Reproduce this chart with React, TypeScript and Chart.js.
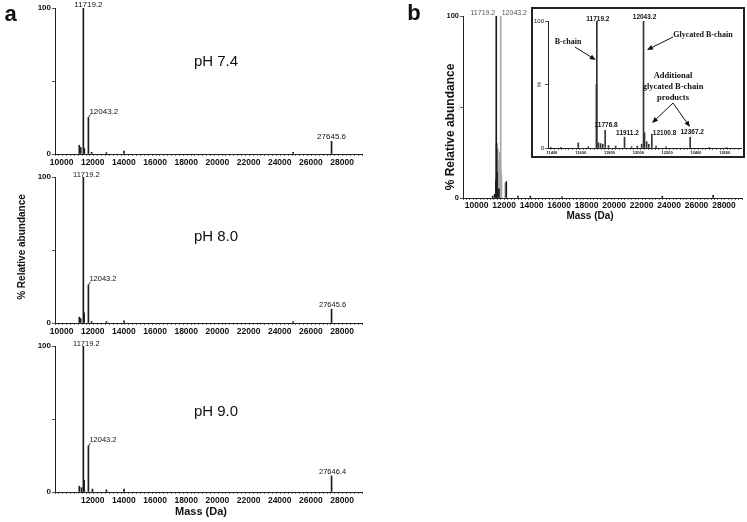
import React, { useEffect, useRef } from 'react';
import { Chart, registerables } from 'chart.js';

Chart.register(...registerables);

// ---------- data ----------
// Panel a: deconvoluted spectra at three pH values (mass in Da, % relative abundance)
const ph74Mass = [11460, 11550, 11719.2, 11780, 12043.2, 12250, 13200, 14330, 25180, 27645.6];
const ph74Abund = [6, 4.5, 100, 4, 25, 1.2, 1, 2, 1.2, 8.7];

const ph80Mass = [11460, 11550, 11719.2, 11770, 12043.2, 12250, 13200, 14330, 25180, 27645.6];
const ph80Abund = [4, 3, 100, 7, 26, 1, 1, 1.5, 1, 9.5];

const ph90Mass = [11460, 11600, 11719.2, 11770, 12043.2, 12300, 13200, 14330, 27646.4];
const ph90Abund = [4, 3, 100, 8, 31.5, 2, 1.5, 2, 11];

// Panel b: overlaid spectra (black = B-chain, grey = glycated)
const bBlackMass = [11460, 11600, 11700, 11719.2, 11745, 11776.8, 11911.2, 12450, 13300, 14200, 16500, 23800, 27500];
const bBlackAbund = [1, 2, 10, 100, 30, 14, 5, 9, 1, 1, 0.7, 1, 1.5];
const bGreyMass = [11760, 11830, 11900, 11970, 12020, 12043.2, 12060, 12100.8, 12367.2];
const bGreyAbund = [24, 27, 20, 25, 22, 100, 15, 12, 8];

// Panel b inset: zoomed region
const insetMass = [11400, 11470, 11590, 11660, 11716, 11719.2, 11730, 11745, 11760, 11776.8, 11800, 11850, 11911.2, 11960, 12000, 12030, 12043.2, 12050, 12065, 12080, 12100.8, 12130, 12200, 12367.2, 12500, 12620];
const insetAbund = [0.5, 0.5, 4, 1, 50, 100, 4, 3.5, 3, 14, 2, 1.5, 8.5, 1, 1.5, 3, 100, 12, 5, 3, 11, 1.5, 1, 8.5, 0.5, 0.5];

// tick labels
const massTicks = [10000, 12000, 14000, 16000, 18000, 20000, 22000, 24000, 26000, 28000];
const massTicksNo10k = [12000, 14000, 16000, 18000, 20000, 22000, 24000, 26000, 28000];
const insetTicks = [11400, 11600, 11800, 12000, 12200, 12400, 12600];
const abundTicks = [0, 100];

const SANS = "'Liberation Sans', Arial, Helvetica, sans-serif";
const SERIF = "'Liberation Serif', 'Times New Roman', serif";

type Series = { mass: number[]; abund: number[]; color: string };
type PeakLabel = {
  mass: number; abund: number; text: string; dx: number; dy: number;
  align: CanvasTextAlign; font: string; color?: string; leader?: boolean;
};
type Note = { mass: number; abund: number; text: string; font: string };
type Arrow = { from: [number, number]; to: [number, number] };
type Panel = {
  series: Series[];
  xMin: number; xMax: number; xStep: number; xLabels: number[];
  padTop: number; padRight: number; yWidth: number; xHeight: number;
  xFont: number; yFont: number; yBold: boolean; xLabelOffset: number; xLabelDx: number;
  labels: PeakLabel[]; notes?: Note[]; arrows?: Arrow[];
  sideTitle?: { text: string; font: string; color: string; offset: number };
};

const hasVal = (arr: number[], v: number) => arr.some((a) => Math.abs(a - v) < 1e-6);

function annPlugin(p: Panel) {
  return {
    id: 'ann',
    afterDraw(chart: any) {
      const ctx: CanvasRenderingContext2D = chart.ctx;
      const xs = chart.scales.x;
      const ys = chart.scales.y;
      const area = chart.chartArea;
      ctx.save();
      // x tick labels, placed by the x scale
      ctx.font = `bold ${p.xFont}px ${SANS}`;
      ctx.fillStyle = '#111';
      ctx.textAlign = 'center';
      ctx.textBaseline = 'middle';
      for (const v of p.xLabels) {
        ctx.fillText(String(v), xs.getPixelForValue(v) + p.xLabelDx, area.bottom + p.xLabelOffset);
      }
      for (const l of p.labels) {
        const px = xs.getPixelForValue(l.mass);
        const py = ys.getPixelForValue(l.abund);
        ctx.font = l.font;
        ctx.fillStyle = l.color || '#111';
        ctx.textAlign = l.align;
        ctx.textBaseline = 'middle';
        ctx.fillText(l.text, px + l.dx, py + l.dy);
        if (l.leader) {
          ctx.strokeStyle = '#333';
          ctx.lineWidth = 1;
          ctx.beginPath();
          ctx.moveTo(px, py);
          ctx.lineTo(px + 2, py - 3);
          ctx.stroke();
        }
      }
      for (const n of p.notes || []) {
        ctx.font = n.font;
        ctx.fillStyle = '#111';
        ctx.textAlign = 'center';
        ctx.textBaseline = 'middle';
        ctx.fillText(n.text, xs.getPixelForValue(n.mass), ys.getPixelForValue(n.abund));
      }
      for (const a of p.arrows || []) {
        const x0 = xs.getPixelForValue(a.from[0]);
        const y0 = ys.getPixelForValue(a.from[1]);
        const x1 = xs.getPixelForValue(a.to[0]);
        const y1 = ys.getPixelForValue(a.to[1]);
        const ang = Math.atan2(y1 - y0, x1 - x0);
        const hl = 6, hw = 2.5;
        ctx.strokeStyle = '#111';
        ctx.fillStyle = '#111';
        ctx.lineWidth = 1;
        ctx.beginPath();
        ctx.moveTo(x0, y0);
        ctx.lineTo(x1 - Math.cos(ang) * hl * 0.8, y1 - Math.sin(ang) * hl * 0.8);
        ctx.stroke();
        ctx.beginPath();
        ctx.moveTo(x1, y1);
        ctx.lineTo(x1 - Math.cos(ang) * hl - Math.sin(ang) * hw, y1 - Math.sin(ang) * hl + Math.cos(ang) * hw);
        ctx.lineTo(x1 - Math.cos(ang) * hl + Math.sin(ang) * hw, y1 - Math.sin(ang) * hl - Math.cos(ang) * hw);
        ctx.closePath();
        ctx.fill();
      }
      if (p.sideTitle) {
        const t = p.sideTitle;
        ctx.translate(area.left - t.offset, (area.top + area.bottom) / 2);
        ctx.rotate(-Math.PI / 2);
        ctx.font = t.font;
        ctx.fillStyle = t.color;
        ctx.textAlign = 'center';
        ctx.textBaseline = 'middle';
        ctx.fillText(t.text, 0, 0);
      }
      ctx.restore();
    },
  };
}

function buildConfig(p: Panel): any {
  return {
    type: 'bar',
    data: {
      datasets: p.series.map((s) => ({
        data: s.mass.map((m, i) => ({ x: m, y: s.abund[i] })),
        backgroundColor: s.color,
        borderWidth: 0,
        barThickness: 1,
        grouped: false,
      })),
    },
    options: {
      responsive: false,
      animation: false,
      devicePixelRatio: 1,
      layout: { padding: { top: p.padTop, right: p.padRight, left: 0, bottom: 0 } },
      plugins: { legend: { display: false }, tooltip: { enabled: false }, title: { display: false } },
      scales: {
        x: {
          type: 'linear',
          min: p.xMin,
          max: p.xMax,
          offset: false,
          afterFit: (s: any) => { s.height = p.xHeight; },
          ticks: {
            stepSize: p.xStep,
            maxTicksLimit: 1000,
            autoSkip: false,
            maxRotation: 0,
            minRotation: 0,
            includeBounds: false,
            padding: 0,
            font: { family: SANS, size: 4 },
            callback: () => '',
          },
          grid: { drawOnChartArea: false, drawTicks: true, tickLength: 2, color: '#777', offset: false },
          border: { display: true, color: '#222', width: 1 },
        },
        y: {
          type: 'linear',
          min: 0,
          max: 100,
          afterFit: (s: any) => { s.width = p.yWidth; },
          ticks: {
            stepSize: 50,
            padding: 1,
            color: '#111',
            font: { family: SANS, size: p.yFont, weight: p.yBold ? 'bold' : 'normal' },
            callback: (v: number) => (hasVal(abundTicks, v) ? String(v) : ''),
          },
          grid: { drawOnChartArea: false, drawTicks: true, tickLength: 3, color: '#555' },
          border: { display: true, color: '#222', width: 1 },
        },
      },
    },
    plugins: [annPlugin(p)],
  };
}

function SpectrumCanvas(props: { cfg: Panel; left: number; top: number; width: number; height: number }) {
  const ref = useRef<HTMLCanvasElement>(null);
  useEffect(() => {
    const chart = new Chart(ref.current as HTMLCanvasElement, buildConfig(props.cfg));
    return () => chart.destroy();
  }, []);
  return (
    <canvas
      ref={ref}
      width={props.width}
      height={props.height}
      style={{ position: 'absolute', left: props.left, top: props.top, width: props.width, height: props.height }}
    />
  );
}

function Txt(p: { x: number; y: number; text: string; size: number; bold?: boolean; rotate?: boolean; color?: string }) {
  return (
    <div
      style={{
        position: 'absolute',
        left: p.x,
        top: p.y,
        transform: `translate(-50%, -50%)${p.rotate ? ' rotate(-90deg)' : ''}`,
        fontFamily: SANS,
        fontSize: p.size,
        fontWeight: p.bold ? 700 : 400,
        lineHeight: 1,
        whiteSpace: 'nowrap',
        color: p.color || '#111',
      }}
    >
      {p.text}
    </div>
  );
}

const pf = (size: number, bold = false) => `${bold ? 'bold ' : ''}${size}px ${SANS}`;

function panelA(mass: number[], abund: number[], xLabels: number[], last: string, lastAbund: number, lastMass: number, g12043: number, top: boolean): Panel {
  return {
    series: [{ mass, abund, color: '#1a1a1a' }],
    xMin: 9900, xMax: 29600, xStep: 250, xLabels,
    padTop: 8, padRight: 8, yWidth: 55, xHeight: 16,
    xFont: 8.5, yFont: 8, yBold: true, xLabelOffset: 8.5, xLabelDx: 5,
    labels: [
      { mass: 11719.2, abund: 100, text: '11719.2', dx: top ? 5 : 3, dy: top ? -3 : -2, align: 'center', font: pf(top ? 8 : 7.5) },
      { mass: 12043.2, abund: g12043, text: '12043.2', dx: 1, dy: -6, align: 'left', font: pf(top ? 8 : 7.5), leader: true },
      { mass: lastMass, abund: lastAbund, text: last, dx: top ? 0 : 1, dy: top ? -5 : -4.5, align: 'center', font: pf(top ? 8 : 7.5) },
    ],
  };
}

const cfgA1 = panelA(ph74Mass, ph74Abund, massTicks, '27645.6', 8.7, 27645.6, 25, true);
const cfgA2 = panelA(ph80Mass, ph80Abund, massTicks, '27645.6', 9.5, 27645.6, 26, false);
const cfgA3 = panelA(ph90Mass, ph90Abund, massTicksNo10k, '27646.4', 11, 27646.4, 31.5, false);

const cfgB: Panel = {
  series: [
    { mass: bBlackMass, abund: bBlackAbund, color: '#1a1a1a' },
    { mass: bGreyMass, abund: bGreyAbund, color: '#a8a8a8' },
  ],
  xMin: 9300, xMax: 29600, xStep: 250, xLabels: massTicks,
  padTop: 16, padRight: 5, yWidth: 83, xHeight: 18,
  xFont: 8.5, yFont: 7.5, yBold: true, xLabelOffset: 7.5, xLabelDx: 4,
  labels: [
    { mass: 11719.2, abund: 100, text: '11719.2', dx: -1, dy: -3, align: 'right', font: pf(7), color: '#555' },
    { mass: 12043.2, abund: 100, text: '12043.2', dx: 1, dy: -3, align: 'left', font: pf(7), color: '#555' },
  ],
  sideTitle: { text: '%', font: pf(6), color: '#d0d0d0', offset: 3 },
};

const cfgInset: Panel = {
  series: [{ mass: insetMass, abund: insetAbund, color: '#333' }],
  xMin: 11380, xMax: 12720, xStep: 25, xLabels: insetTicks,
  padTop: 12, padRight: 2, yWidth: 15, xHeight: 8,
  xFont: 4, yFont: 6, yBold: false, xLabelOffset: 5, xLabelDx: 1,
  labels: [
    { mass: 11719.2, abund: 100, text: '11719.2', dx: 1, dy: -2, align: 'center', font: pf(6.5, true) },
    { mass: 12043.2, abund: 100, text: '12043.2', dx: 1, dy: -4, align: 'center', font: pf(6.5, true) },
    { mass: 11776.8, abund: 14, text: '11776.8', dx: 1, dy: -5, align: 'center', font: pf(6.5, true) },
    { mass: 11911.2, abund: 8.5, text: '11911.2', dx: 3, dy: -4, align: 'center', font: pf(6.5, true) },
    { mass: 12100.8, abund: 11, text: '12100.8', dx: 1, dy: -1, align: 'left', font: pf(6.5, true) },
    { mass: 12367.2, abund: 8.5, text: '12367.2', dx: 2, dy: -5, align: 'center', font: pf(6.5, true) },
  ],
  notes: [
    { mass: 11519, abund: 83.5, text: 'B-chain', font: `bold 8px ${SERIF}` },
    { mass: 12456, abund: 89, text: 'Glycated B-chain', font: `bold 8px ${SERIF}` },
    { mass: 12248, abund: 56.7, text: 'Additional', font: `bold 8.5px ${SERIF}` },
    { mass: 12248, abund: 48, text: 'glycated B-chain', font: `bold 8.5px ${SERIF}` },
    { mass: 12248, abund: 39.4, text: 'products', font: `bold 8.5px ${SERIF}` },
  ],
  arrows: [
    { from: [11567, 79.5], to: [11712, 69.3] },
    { from: [12248, 87.4], to: [12067, 77.2] },
    { from: [12248, 35.4], to: [12102, 19.7] },
    { from: [12248, 35.4], to: [12366, 16.5] },
  ],
  sideTitle: { text: '%', font: pf(6), color: '#222', offset: 9 },
};

export default function App() {
  return (
    <div style={{ position: 'absolute', left: 0, top: 0, width: 747, height: 522, background: '#fff', overflow: 'hidden' }}>
      <SpectrumCanvas cfg={cfgA1} left={0} top={0} width={370} height={170} />
      <SpectrumCanvas cfg={cfgA2} left={0} top={169} width={370} height={170} />
      <SpectrumCanvas cfg={cfgA3} left={0} top={338} width={370} height={170} />
      <SpectrumCanvas cfg={cfgB} left={380} top={0} width={367} height={216} />
      <div
        style={{
          position: 'absolute', left: 531, top: 7, width: 210, height: 147,
          border: '2px solid #222', background: '#fff',
        }}
      >
        <SpectrumCanvas cfg={cfgInset} left={0} top={0} width={210} height={147} />
      </div>

      <Txt x={10.5} y={14} text="a" size={22} bold />
      <Txt x={414} y={12.5} text="b" size={22} bold />
      <Txt x={216} y={60} text="pH 7.4" size={15} />
      <Txt x={216} y={235} text="pH 8.0" size={15} />
      <Txt x={216} y={410} text="pH 9.0" size={15} />
      <Txt x={21.5} y={247} text="% Relative abundance" size={10} bold rotate />
      <Txt x={201} y={511} text="Mass (Da)" size={11} bold />
      <Txt x={450} y={127} text="% Relative abundance" size={12} bold rotate />
      <Txt x={590} y={216} text="Mass (Da)" size={10} bold />
    </div>
  );
}
